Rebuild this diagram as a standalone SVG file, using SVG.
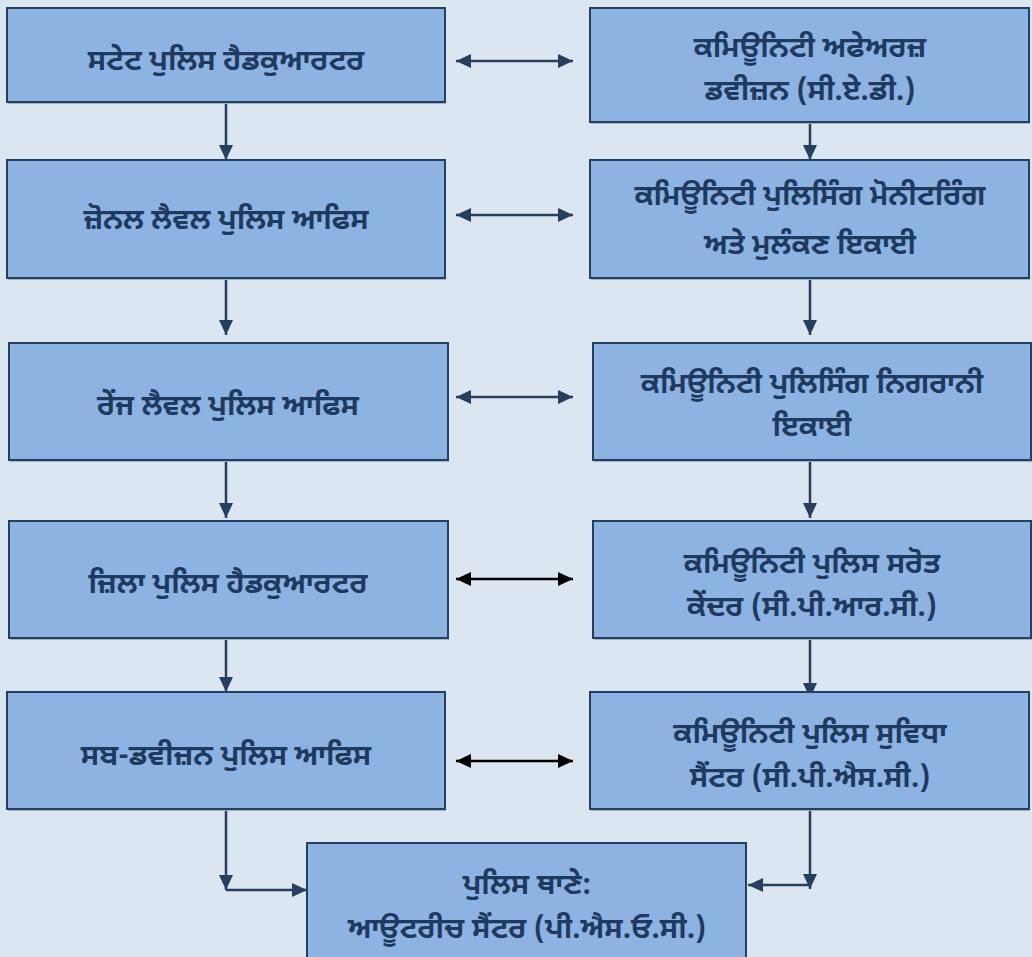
<svg xmlns="http://www.w3.org/2000/svg" width="1032" height="957" viewBox="0 0 1032 957">
<defs>
<marker id="ah" markerUnits="userSpaceOnUse" markerWidth="15" markerHeight="14" refX="15" refY="7" orient="auto-start-reverse"><path d="M0,0 L15,7 L0,14 z" fill="#243f60"/></marker>
<marker id="ahk" markerUnits="userSpaceOnUse" markerWidth="15" markerHeight="14" refX="15" refY="7" orient="auto-start-reverse"><path d="M0,0 L15,7 L0,14 z" fill="#000"/></marker>
<style>
.sh{fill:#a7b4c4}
.box{fill:#8db3e2;stroke:#243f60;stroke-width:2}
.t{font-family:"Noto Sans Gurmukhi","Lohit Gurmukhi","Noto Sans","DejaVu Sans",sans-serif;font-size:29px;font-weight:bold;fill:#1f3a5f;text-anchor:middle;dominant-baseline:central}
.c{fill:none;stroke:#243f60;stroke-width:2.5}
.k{fill:none;stroke:#000;stroke-width:2.5}
</style>
</defs>
<rect width="1032" height="957" fill="#dce6f1"/>
<g id="connectors">
<line class="c" x1="226" y1="103" x2="226" y2="160" marker-end="url(#ah)"/>
<line class="c" x1="226" y1="279" x2="226" y2="335" marker-end="url(#ah)"/>
<line class="c" x1="226" y1="461" x2="226" y2="518" marker-end="url(#ah)"/>
<line class="c" x1="226" y1="639" x2="226" y2="692" marker-end="url(#ah)"/>
<line class="c" x1="226" y1="810" x2="226" y2="890" marker-end="url(#ah)"/>
<line class="c" x1="226" y1="890" x2="307" y2="890" marker-end="url(#ah)"/>
<line class="c" x1="810" y1="123" x2="810" y2="160" marker-end="url(#ah)"/>
<line class="c" x1="810" y1="279" x2="810" y2="335" marker-end="url(#ah)"/>
<line class="c" x1="810" y1="461" x2="810" y2="518" marker-end="url(#ah)"/>
<line class="c" x1="810" y1="639" x2="810" y2="698" marker-end="url(#ah)"/>
<line class="c" x1="810" y1="810" x2="810" y2="889" marker-end="url(#ah)"/>
<line class="c" x1="810" y1="885" x2="748" y2="885" marker-end="url(#ah)"/>
<line class="c" x1="456" y1="61" x2="573" y2="61" marker-start="url(#ah)" marker-end="url(#ah)"/>
<line class="c" x1="456" y1="215" x2="573" y2="215" marker-start="url(#ah)" marker-end="url(#ah)"/>
<line class="c" x1="456" y1="397" x2="573" y2="397" marker-start="url(#ah)" marker-end="url(#ah)"/>
<line class="k" x1="456" y1="579" x2="573" y2="579" marker-start="url(#ahk)" marker-end="url(#ahk)"/>
<line class="k" x1="456" y1="761" x2="573" y2="761" marker-start="url(#ahk)" marker-end="url(#ahk)"/>
</g>
<g id="n-state-hq"><rect class="sh" x="8" y="10" width="438" height="94"/><rect class="box" x="7" y="8" width="438" height="94"/><text class="t" x="226" y="63">ਸਟੇਟ ਪੁਲਿਸ ਹੈਡਕੁਆਰਟਰ</text></g>
<g id="n-zonal"><rect class="sh" x="8" y="162" width="438" height="118"/><rect class="box" x="7" y="160" width="438" height="118"/><text class="t" x="226" y="222">ਜ਼ੋਨਲ ਲੈਵਲ ਪੁਲਿਸ ਆਫਿਸ</text></g>
<g id="n-range"><rect class="sh" x="10" y="345" width="439" height="117"/><rect class="box" x="9" y="343" width="439" height="117"/><text class="t" x="228" y="408">ਰੇਂਜ ਲੈਵਲ ਪੁਲਿਸ ਆਫਿਸ</text></g>
<g id="n-district"><rect class="sh" x="10" y="523" width="439" height="117"/><rect class="box" x="9" y="521" width="439" height="117"/><text class="t" x="228" y="586">ਜ਼ਿਲਾ ਪੁਲਿਸ ਹੈਡਕੁਆਰਟਰ</text></g>
<g id="n-subdiv"><rect class="sh" x="8" y="694" width="438" height="117"/><rect class="box" x="7" y="692" width="438" height="117"/><text class="t" x="226" y="758">ਸਬ-ਡਵੀਜ਼ਨ ਪੁਲਿਸ ਆਫਿਸ</text></g>
<g id="n-cad"><rect class="sh" x="591" y="10" width="439" height="114"/><rect class="box" x="590" y="8" width="439" height="114"/><text class="t" x="810" y="50">ਕਮਿਊਨਿਟੀ ਅਫੇਅਰਜ਼</text><text class="t" x="810" y="93">ਡਵੀਜ਼ਨ (ਸੀ.ਏ.ਡੀ.)</text></g>
<g id="n-monitoring"><rect class="sh" x="591" y="162" width="439" height="118"/><rect class="box" x="590" y="160" width="439" height="118"/><text class="t" x="810" y="198">ਕਮਿਊਨਿਟੀ ਪੁਲਿਸਿੰਗ ਮੋਨੀਟਰਿੰਗ</text><text class="t" x="810" y="247">ਅਤੇ ਮੁਲੰਕਣ ਇਕਾਈ</text></g>
<g id="n-supervision"><rect class="sh" x="594" y="345" width="439" height="117"/><rect class="box" x="593" y="343" width="438" height="117"/><text class="t" x="812" y="386">ਕਮਿਊਨਿਟੀ ਪੁਲਿਸਿੰਗ ਨਿਗਰਾਨੀ</text><text class="t" x="812" y="429">ਇਕਾਈ</text></g>
<g id="n-cprc"><rect class="sh" x="594" y="523" width="439" height="117"/><rect class="box" x="593" y="521" width="438" height="117"/><text class="t" x="812" y="566">ਕਮਿਊਨਿਟੀ ਪੁਲਿਸ ਸਰੋਤ</text><text class="t" x="812" y="609">ਕੇਂਦਰ (ਸੀ.ਪੀ.ਆਰ.ਸੀ.)</text></g>
<g id="n-cpsc"><rect class="sh" x="591" y="694" width="439" height="117"/><rect class="box" x="590" y="692" width="439" height="117"/><text class="t" x="810" y="736">ਕਮਿਊਨਿਟੀ ਪੁਲਿਸ ਸੁਵਿਧਾ</text><text class="t" x="810" y="780">ਸੈਂਟਰ (ਸੀ.ਪੀ.ਐਸ.ਸੀ.)</text></g>
<g id="n-station"><rect class="sh" x="308" y="845" width="439" height="120"/><rect class="box" x="307" y="843" width="439" height="120"/><text class="t" x="527" y="887">ਪੁਲਿਸ ਥਾਣੇ:</text><text class="t" x="527" y="931">ਆਊਟਰੀਚ ਸੈਂਟਰ (ਪੀ.ਐਸ.ਓ.ਸੀ.)</text></g>
</svg>
